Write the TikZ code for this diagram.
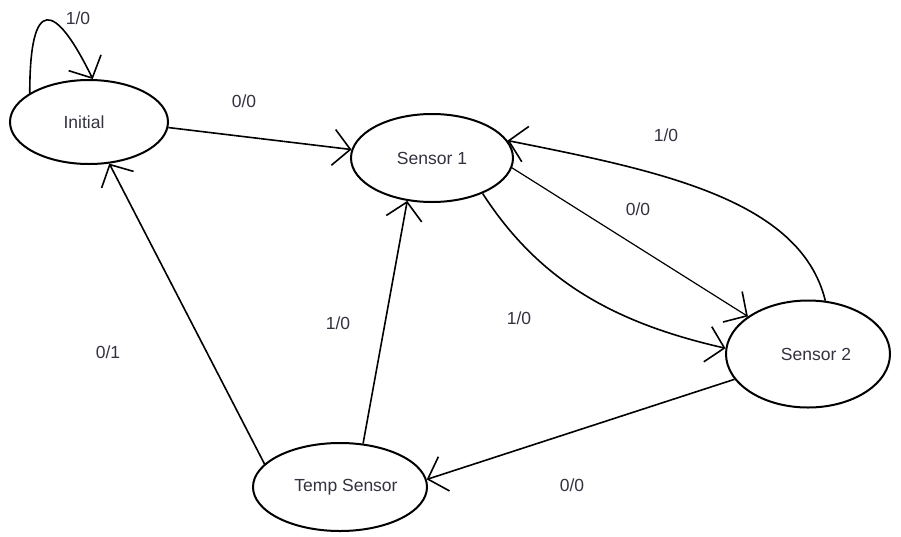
\documentclass[tikz,border=0pt]{standalone}
\usepackage{fontspec}
\setmainfont{Liberation Sans}
\usetikzlibrary{arrows.meta,shapes.geometric}
\definecolor{inkline}{rgb}{0,0,0}
\definecolor{inktext}{rgb}{0.2,0.2,0.25}
\tikzset{
  statebox/.style={ellipse, draw=inkline, line width=2pt, inner sep=0pt,
    text=inktext, font=\fontsize{17.5}{20}\selectfont},
  lbl/.style={text=inktext, font=\fontsize{17.5}{20}\selectfont, inner sep=1pt},
  edge/.style={line width=1.6pt, draw=inkline,
    -{Straight Barb[length=17pt,width=36pt,line width=1.6pt]}},
  thinedge/.style={edge, line width=1.2pt}
}
\begin{document}
\begin{tikzpicture}[x=1pt,y=-1pt]
  \useasboundingbox (0,0) rectangle (901,536);
  \fill[white] (0,0) rectangle (901,536);

  % states
  \node[statebox, minimum width=158pt, minimum height=84pt] (init) at (89,122) {\hspace*{-10pt}Initial};
  \node[statebox, minimum width=162pt, minimum height=88pt] (s1) at (432,158) {Sensor 1};
  \node[statebox, minimum width=164pt, minimum height=107pt] (s2) at (808,354) {\hspace*{16pt}Sensor 2};
  \node[statebox, minimum width=174pt, minimum height=88pt] (temp) at (340,487) {\hspace*{12pt}Temp Sensor};

  % transitions
  \draw[edge] (init.154) .. controls +(0,-98) and +(-38,-78) .. (init.85);
  \draw[edge] (init.-4) -- (s1.174);
  \draw[thinedge] (s1.-7) -- (s2.148);
  \draw[edge] (s2.72) .. controls +(-25,-102) and +(150,30) .. (s1.13);
  \draw[edge] (s1.-35) .. controls +(55,85) and +(-115,-26) .. (s2.176);
  \draw[edge] (s2.199) -- (temp.5);
  \draw[edge] (temp.62) -- (s1.-120);
  \draw[edge] (temp.163) -- (init.-64);

  % transition labels
  \node[lbl] (l1) at (78,18) {1/0};
  \node[lbl] (l2) at (244,101) {0/0};
  \node[lbl] (l3) at (666,135) {1/0};
  \node[lbl] (l4) at (638,209) {0/0};
  \node[lbl] (l5) at (519,318) {1/0};
  \node[lbl] (l6) at (338,323) {1/0};
  \node[lbl] (l7) at (108,352) {0/1};
  \node[lbl] (l8) at (572,485) {0/0};
\end{tikzpicture}
\end{document}
